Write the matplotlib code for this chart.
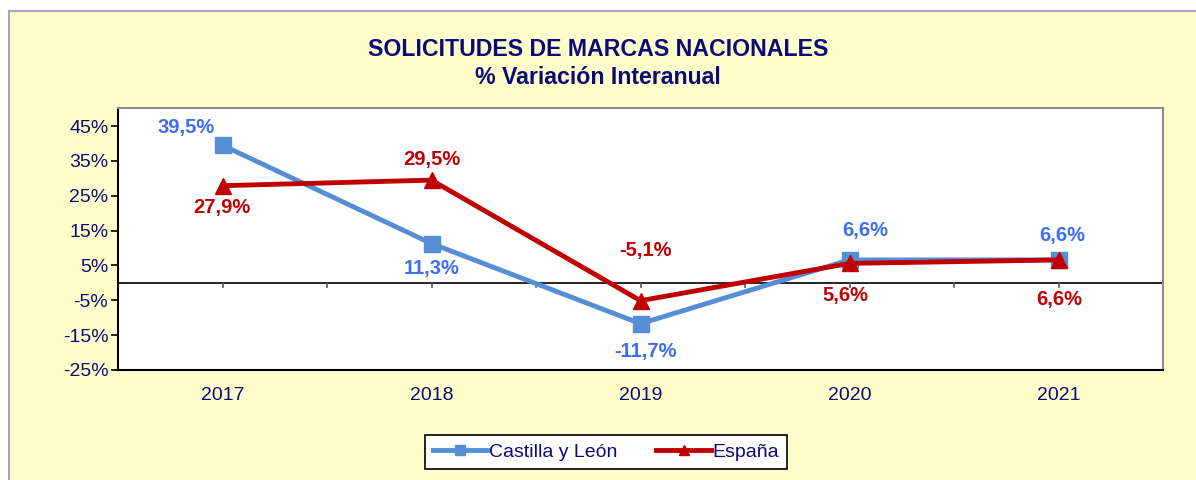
import matplotlib.pyplot as plt
from matplotlib.patches import Rectangle

plt.rcParams['font.family'] = ['Liberation Sans', 'DejaVu Sans']

years = ['2017', '2018', '2019', '2020', '2021']
castilla = [39.5, 11.3, -11.7, 6.6, 6.6]
espana = [27.9, 29.5, -5.1, 5.6, 6.6]
castilla_labels = ['39,5%', '11,3%', '-11,7%', '6,6%', '6,6%']
espana_labels = ['27,9%', '29,5%', '-5,1%', '5,6%', '6,6%']
yticks = [45, 35, 25, 15, 5, -5, -15, -25]

navy = '#0a0a78'
blue_line = '#558ed5'
blue_text = '#3d6cf5'
red = '#c00000'

W, H = 1196, 480
fig = plt.figure(figsize=(W / 100, H / 100), dpi=100)
fig.patch.set_facecolor('white')

# yellow chart area with thin border, running off right/bottom edge
fig.patches.append(Rectangle((9 / W, -0.1), 1.2, (H - 10.5) / H + 0.1,
                             transform=fig.transFigure, facecolor='#ffffcc',
                             edgecolor='#a4a4c8', linewidth=1.5, zorder=-1))

ax = fig.add_axes([118 / W, 1 - 370 / H, (1163 - 118) / W, (370 - 108) / H])
ax.set_zorder(2)
ax.set_facecolor('white')
x = list(range(len(years)))

ax.plot(x, castilla, color=blue_line, lw=3.5, marker='s', ms=11,
        label='Castilla y León', zorder=3)
ax.plot(x, espana, color=red, lw=3.5, marker='^', ms=11,
        label='España', zorder=4)

ax.set_xlim(-0.5, 4.5)
ax.set_ylim(-25, 50.2)

# horizontal axis crossing at zero, with ticks hanging down
ax.axhline(0, color='black', lw=1.2, zorder=2)
for t in [i / 2 for i in range(0, 10)]:
    ax.plot([t, t], [0, -1.3], color='#555555', lw=1.2, zorder=2)

ax.set_xticks(x)
ax.set_xticklabels(years, fontsize=14, color=navy)
ax.tick_params(axis='x', length=0, pad=12)
ax.set_yticks(yticks)
ax.set_yticklabels([f'{v}%' for v in yticks], fontsize=14, color=navy)
ax.tick_params(axis='y', length=5, width=1.2, pad=2, direction='out')

ax.spines['left'].set_color('black')
ax.spines['bottom'].set_color('black')
ax.spines['top'].set_color('#8c8c8c')
ax.spines['right'].set_color('#8c8c8c')
for s in ax.spines.values():
    s.set_linewidth(1.5)

# data labels (offsets in pixels)
c_off = [(-36, 18), (0, -25), (5, -28), (16, 29), (4, 24)]
e_off = [(-1, -22), (0, 21), (5, 50), (-4, -32), (1, -40)]
for i in x:
    ax.annotate(castilla_labels[i], (i, castilla[i]), xytext=c_off[i],
                textcoords='offset pixels', ha='center', va='center',
                fontsize=14.5, fontweight='bold', color=blue_text)
    ax.annotate(espana_labels[i], (i, espana[i]), xytext=e_off[i],
                textcoords='offset pixels', ha='center', va='center',
                fontsize=14.5, fontweight='bold', color=red)

fig.text(598 / W, 1 - 50 / H, 'SOLICITUDES DE MARCAS NACIONALES',
         ha='center', va='center', fontsize=16.7, fontweight='bold', color=navy)
fig.text(598 / W, 1 - 78 / H, '% Variación Interanual',
         ha='center', va='center', fontsize=16.7, fontweight='bold', color=navy)

leg = fig.legend(loc='center', bbox_to_anchor=(606 / W, 1 - 452 / H),
                 ncol=2, frameon=True, fancybox=False, fontsize=14,
                 handlelength=2.8, columnspacing=2.0, handletextpad=0.1,
                 borderpad=0.4, markerscale=0.7, framealpha=1)
leg.get_frame().set_edgecolor('black')
leg.get_frame().set_linewidth(1.2)
for t in leg.get_texts():
    t.set_color(navy)

fig.savefig('out.png', dpi=100)
